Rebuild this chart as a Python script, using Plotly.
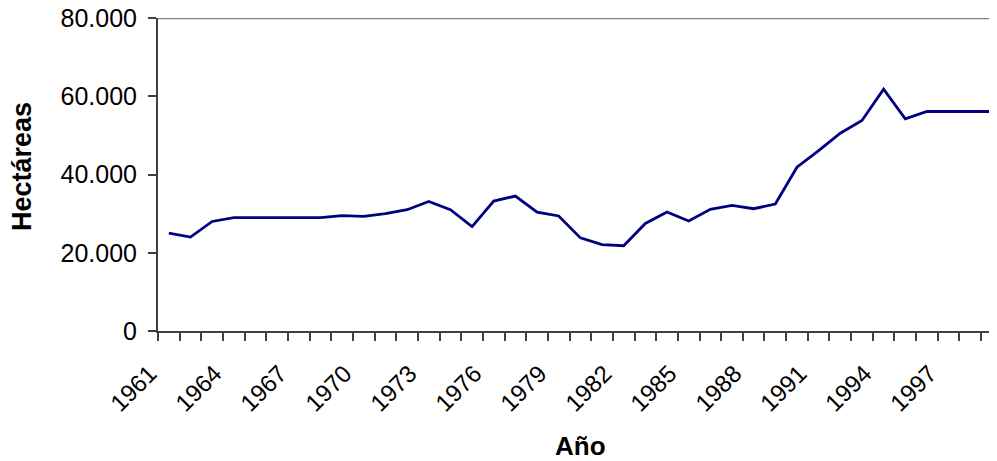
import plotly.graph_objects as go

years = list(range(1961, 2000))
hectareas = [25000, 24000, 28000, 29000, 29000, 29000, 29000, 29000, 29500, 29300,
             30000, 31000, 33100, 31000, 26700, 33200, 34500, 30400, 29400, 23800,
             22100, 21800, 27500, 30400, 28100, 31100, 32100, 31250, 32450, 41850,
             46100, 50550, 53800, 61800, 54200, 56100, 56100, 56100, 56100]
label_years = list(range(1961, 2000, 3))
y_ticks = [0, 20000, 40000, 60000, 80000]

# The page body adds an 8px offset; figure coords = page coords - 8
OFF = 8
W, H = 997 - OFF, 461
L, R, T = 158 - OFF, 0, 18 - OFF
B = H - (331 - OFF)
ph = H - T - B
pw = W - L - R
step = 21.66  # px per year

def py(p):  # page pixel -> paper y
    return (H - B - (p - OFF)) / ph

def px(p):  # page pixel -> paper x
    return ((p - OFF) - L) / pw

fig = go.Figure()
fig.add_trace(go.Scatter(x=years, y=hectareas, mode="lines",
                         line=dict(color="#000080", width=2.8), hoverinfo="x+y"))

font = "Liberation Sans, Arial, sans-serif"
fig.update_layout(
    width=W, height=H,
    margin=dict(l=L, r=R, t=T, b=B, autoexpand=False),
    paper_bgcolor="white", plot_bgcolor="white",
    separators=",.",
    showlegend=False,
    font=dict(family=font, color="black", size=22),
    xaxis=dict(
        range=[1960.5, 1960.5 + pw / step],
        tickmode="array", tickvals=label_years,
        ticktext=[str(v) for v in label_years],
        tickangle=-45, ticks="", ticklen=0, showgrid=False, zeroline=False,
        showline=True, linecolor="#404040", linewidth=2, automargin=False,
        tickfont=dict(size=24), ticklabelstandoff=17, ticklabelshift=-19,
        ticklabeloverflow="allow",
        minor=dict(tick0=1960.5, dtick=1, ticks="outside", ticklen=8,
                   tickcolor="#404040", tickwidth=1.5, showgrid=False),
    ),
    yaxis=dict(
        range=[0, 80000], tickmode="array", tickvals=y_ticks,
        tickformat=",d", ticks="outside", ticklen=8, tickcolor="#404040", tickwidth=1.5,
        showgrid=False, zeroline=False, automargin=False,
        showline=True, linecolor="#404040", linewidth=2,
        tickfont=dict(size=25), ticklabelstandoff=6, ticklabeloverflow="allow",
    ),
    shapes=[dict(type="line", xref="paper", yref="y", x0=0, x1=1, y0=80000, y1=80000,
                 line=dict(color="#808080", width=2.5))],
    annotations=[
        dict(text="<b>Hectáreas</b>", xref="paper", yref="paper",
             x=px(22), y=py(167), textangle=-90,
             showarrow=False, font=dict(size=27), xanchor="center", yanchor="middle"),
        dict(text="<b>Año</b>", xref="paper", yref="paper",
             x=px(580), y=py(446),
             showarrow=False, font=dict(size=26), xanchor="center", yanchor="middle"),
        dict(text="Fuente: FAO", xref="paper", yref="paper",
             x=px(10), y=py(455),
             showarrow=False, font=dict(size=25), xanchor="left", yanchor="top"),
    ],
)

fig.write_html("out.html")
